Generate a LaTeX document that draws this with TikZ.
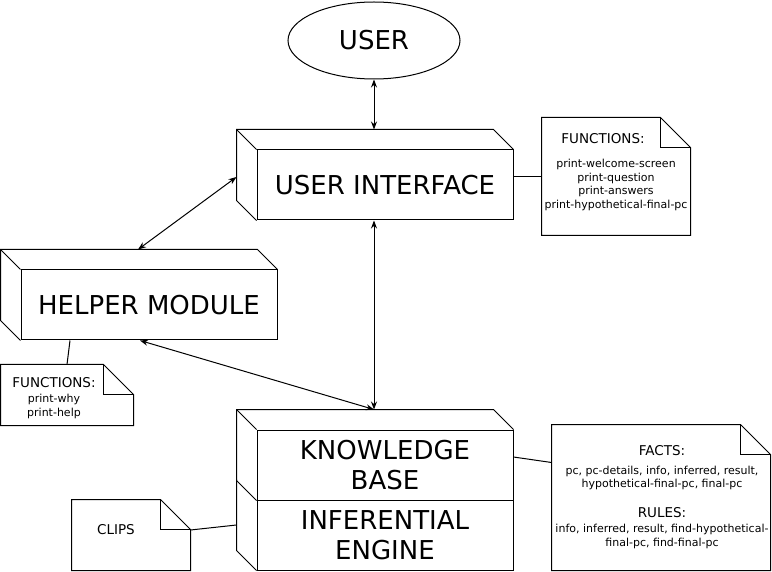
\documentclass[tikz,border=0pt]{standalone}
\usepackage{fontspec}
\setmainfont{DejaVu Sans}
\usetikzlibrary{arrows.meta,shapes.geometric}

\tikzset{
  bigtext/.style={font=\fontsize{26}{30}\selectfont},
  front/.style={draw,fill=white,minimum width=256pt,minimum height=70pt,inner sep=0pt,align=center,bigtext},
  notetext/.style={inner sep=0pt,align=center,font=\fontsize{11}{13.5}\selectfont},
  link/.style={{Stealth[length=8pt,width=6pt]}-{Stealth[length=8pt,width=6pt]}}
}
\newcommand{\headline}[1]{{\fontsize{13.5}{14}\selectfont #1}}

\begin{document}
\begin{tikzpicture}[x=1pt,y=-1pt,line width=1pt]
        \useasboundingbox (0,0) rectangle (772,572);
        %% user and the module boxes (front faces)
        \node[draw,ellipse,minimum width=172pt,minimum height=77pt,inner sep=0pt,bigtext] (user) at (374,40.5) {USER};
        \node[front] (ui) at (385,185) {USER INTERFACE};
        \node[front] (helper) at (149,305) {HELPER MODULE};
        \node[front] (kb) at (385,465) {KNOWLEDGE\\BASE};
        \node[front] (ie) at (385,535) {INFERENTIAL\\ENGINE};
        %% depth of the boxes
        \foreach \n in {ui,helper,kb} {
            \draw (\n.south west) -- ++(-20,-20) -- ([shift={(-20,-20)}]\n.north west) -- ([shift={(-20,-20)}]\n.north east) -- (\n.north east);
            \draw (\n.north west) -- ++(-20,-20);
        }
        \draw (ie.south west) -- ++(-20,-20) -- ([shift={(-20,-20)}]ie.north west);
        %% notes
        \node[minimum width=148pt,minimum height=117pt,inner sep=0pt] (uinote) at (616,176.5) {};
        \node[minimum width=132pt,minimum height=60pt,inner sep=0pt] (helpnote) at (67,395) {};
        \node[minimum width=118pt,minimum height=70pt,inner sep=0pt] (clipsnote) at (131,535) {};
        \node[minimum width=218pt,minimum height=145pt,inner sep=0pt] (factsnote) at (661,497.5) {};
        \foreach \n in {uinote,helpnote,clipsnote,factsnote} {
            \draw[fill=white] (\n.south west) -- (\n.north west) -- ([shift={(-30,0)}]\n.north east) -- ([shift={(0,30)}]\n.north east) -- (\n.south east) -- cycle;
            \draw ([shift={(-30,0)}]\n.north east) -- ++(0,30) -- ++(30,0);
        }
        \node[notetext] (uitext) at (616,172) {\headline{FUNCTIONS:}\hspace*{26pt}\\[10.5pt]print-welcome-screen\\print-question\\print-answers\\print-hypothetical-final-pc};
        \node[notetext] (helptext) at (54,398) {\headline{FUNCTIONS:}\\[1.5pt]print-why\\print-help};
        \node[notetext] (clipstext) at (116,530) {\headline{CLIPS}};
        \node[notetext] (factstext) at (662,497) {\headline{FACTS:}\\[5.5pt]pc, pc-details, info, inferred, result,\\hypothetical-final-pc, final-pc\\[16.5pt]\headline{RULES:}\\[1.5pt]info, inferred, result, find-hypothetical-\\final-pc, find-final-pc};
        %% note links
        \draw (ui.east |- uinote.west) -- (uinote.west);
        \draw ([shift={(-79,0)}]helper.south) -- (helpnote.north);
        \draw ([shift={(0,-8)}]kb.east) -- ([shift={(0,-35)}]factsnote.west);
        \draw ([shift={(0,-5)}]clipsnote.east) -- ([shift={(-20,-10)}]ie.west);
        %% arrows
        \draw[link] (user.south) -- ([shift={(-11,-20)}]ui.north);
        \draw[link] ([shift={(-11,0)}]ui.south) -- ([shift={(-11,-20)}]kb.north);
        \draw[link] ([shift={(-20,-8)}]ui.west) -- ([shift={(-11,-20)}]helper.north);
        \draw[link] ([shift={(-9,0)}]helper.south) -- ([shift={(-11,-20)}]kb.north);
\end{tikzpicture}
\end{document}
